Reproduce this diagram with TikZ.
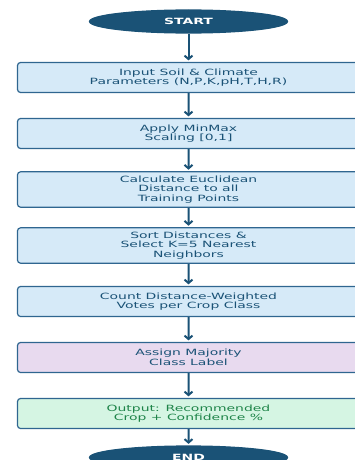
\documentclass[tikz,border=0pt]{standalone}
\usepackage{fontspec}
\newfontfamily\flowfont{DejaVu Sans}[FakeStretch=1.62]
\usetikzlibrary{shapes.geometric,arrows.meta}
\definecolor{navy}{HTML}{1A5276}
\definecolor{edgeblue}{HTML}{2F6690}
\definecolor{boxblue}{HTML}{D6EAF8}
\definecolor{boxpurple}{HTML}{E8DAEF}
\definecolor{boxgreen}{HTML}{D5F5E3}
\definecolor{textgreen}{HTML}{1E8449}
\begin{document}
\begin{tikzpicture}[
        termn/.style={ellipse, sharp corners, fill=navy, draw=navy, text=white, font=\flowfont\bfseries\fontsize{8.6}{9.7}\selectfont, minimum width=198pt, minimum height=23pt, inner sep=0pt},
        bluen/.style={fill=boxblue},
        purplen/.style={fill=boxpurple},
        greenn/.style={fill=boxgreen, text=textgreen},
        every node/.style={draw=edgeblue, line width=1.2pt, rounded corners=3pt, rectangle, minimum width=342pt, minimum height=30pt, inner ysep=4pt, align=center, text=navy, font=\flowfont\fontsize{8.6}{9.5}\selectfont},
        edge from parent/.style={draw=navy, line width=2pt, -{Straight Barb[length=3.5pt,width=8pt]}, shorten >=1.5pt},
        level distance=56pt,
        level 8/.style={level distance=44pt},
    ]
    \useasboundingbox (-188.5pt,21.5pt) rectangle (166.5pt,-438.5pt);
    \node[termn](start){START}
    child{node[bluen](input){Input Soil \& Climate\\Parameters (N,P,K,pH,T,H,R)}
        child{node[bluen](scale){Apply MinMax\\Scaling [0,1]}
            child{node[bluen](dist){Calculate Euclidean\\Distance to all\\Training Points}
                child{node[bluen](sort){Sort Distances \&\\Select K=5 Nearest\\Neighbors}
                    child{node[bluen](vote){Count Distance-Weighted\\Votes per Crop Class}
                        child{node[purplen](assign){Assign Majority\\Class Label}
                            child{node[greenn](output){Output: Recommended\\Crop + Confidence \%}
                                child{node[termn](end){END}}
                            }
                        }
                    }
                }
            }
        }
    }
    ;
\end{tikzpicture}
\end{document}
